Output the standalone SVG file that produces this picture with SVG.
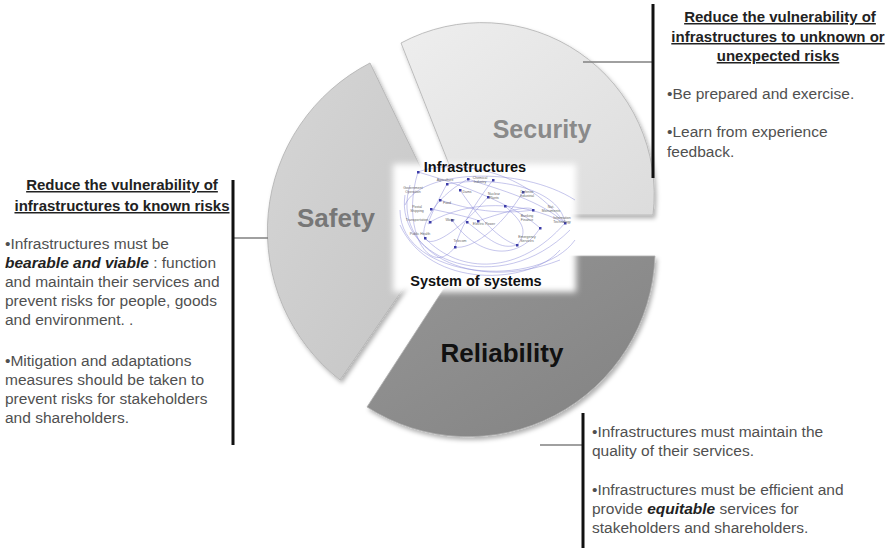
<svg xmlns="http://www.w3.org/2000/svg" width="895" height="549" viewBox="0 0 895 549">
<style>
.ttl{font-family:"Liberation Sans",Arial,sans-serif;font-weight:bold;font-size:15px;fill:#222;text-anchor:middle;text-decoration:underline}
.body{font-family:"Liberation Sans",Arial,sans-serif;font-size:15.5px;fill:#505050}
.bi{font-weight:bold;font-style:italic;fill:#222}
.seg{stroke:#b0b0b0;stroke-width:0.8}
.lbl{font-family:"Liberation Sans",Arial,sans-serif;font-weight:bold;text-anchor:middle}
.hdr{font-family:"Liberation Sans",Arial,sans-serif;font-weight:bold;font-size:14.5px;fill:#111;text-anchor:middle}
.bar{stroke:#111;stroke-width:3}
.lead{stroke:#808080;stroke-width:1.5}
.net path{fill:none;stroke:#8a8ad8;stroke-width:0.7;opacity:0.7}
.net rect{fill:#3c3ca8}
.tiny{font-family:"Liberation Sans",Arial,sans-serif;font-size:3.5px;fill:#666;text-anchor:middle}
</style>
<defs>
<filter id="sh" x="-10%" y="-10%" width="130%" height="130%">
<feDropShadow dx="2" dy="3" stdDeviation="2" flood-color="#000" flood-opacity="0.3"/>
</filter>
<filter id="soft" x="-10%" y="-10%" width="120%" height="120%">
<feGaussianBlur stdDeviation="3"/>
</filter>
<linearGradient id="gSec" x1="0" y1="0" x2="1" y2="1">
<stop offset="0" stop-color="#eeeeee"/><stop offset="1" stop-color="#dcdcdc"/>
</linearGradient>
<linearGradient id="gSaf" x1="0" y1="0" x2="1" y2="1">
<stop offset="0" stop-color="#d6d6d6"/><stop offset="1" stop-color="#c4c4c4"/>
</linearGradient>
<linearGradient id="gRel" x1="0" y1="0" x2="1" y2="1">
<stop offset="0" stop-color="#969696"/><stop offset="1" stop-color="#828282"/>
</linearGradient>
</defs>
<rect width="895" height="549" fill="#ffffff"/>

<g id="security" filter="url(#sh)">
<path class="seg" d="M469,215 L401,43 A172,172 0 0 1 653,215 Z" fill="url(#gSec)"/>
</g>
<g id="safety" filter="url(#sh)">
<path class="seg" d="M448,224 L370,63 A189,189 0 0 0 340,380 Z" fill="url(#gSaf)"/>
</g>
<g id="reliability" filter="url(#sh)">
<path class="seg" d="M465,256 L655,256 A187,187 0 0 1 367,407 Z" fill="url(#gRel)"/>
</g>

<text class="lbl" x="542" y="138" font-size="25" fill="#8a8a8a">Security</text>
<text class="lbl" x="336" y="227" font-size="26" fill="#777777">Safety</text>
<text class="lbl" x="502" y="362" font-size="26" fill="#111111">Reliability</text>

<g id="system-of-systems">
<rect x="393" y="164" width="183" height="128" fill="#ffffff" filter="url(#soft)"/>
<g class="net">
<path d="M418,172 C450,160 520,165 565,223"/>
<path d="M418,172 C400,230 430,280 455,247"/>
<path d="M447,184 C500,175 560,190 565,223"/>
<path d="M468,179 C430,200 420,230 425,238"/>
<path d="M460,190 C480,220 500,240 517,245"/>
<path d="M440,200 C470,210 500,215 533,210"/>
<path d="M488,197 C460,230 430,250 425,238"/>
<path d="M523,192 C500,230 470,250 455,247"/>
<path d="M430,222 C470,200 520,200 565,223"/>
<path d="M452,220 C480,260 520,260 540,228"/>
<path d="M478,221 C510,210 530,205 533,210"/>
<path d="M405,195 C395,260 500,300 570,230"/>
<path d="M410,185 C390,250 470,295 560,260"/>
<path d="M425,238 C460,275 520,275 565,223"/>
<path d="M467,222 C490,240 500,250 517,245"/>
<path d="M418,172 C480,190 520,210 540,228"/>
<path d="M493,180 C470,210 460,230 455,247"/>
<path d="M400,210 C400,280 540,290 575,240"/>
<path d="M447,184 C430,215 425,230 430,222"/>
<path d="M505,206 C520,220 530,230 517,245"/>
<path d="M468,179 C500,190 540,200 565,223"/>
<path d="M431,209 C460,215 480,220 478,221"/>
<path d="M405,205 C420,170 520,165 575,200"/>
<path d="M400,225 C430,290 530,285 560,250"/>
<rect x="417" y="171" width="2.5" height="2.5"/>
<rect x="446" y="183" width="2.5" height="2.5"/>
<rect x="467" y="178" width="2.5" height="2.5"/>
<rect x="459" y="189" width="2.5" height="2.5"/>
<rect x="439" y="199" width="2.5" height="2.5"/>
<rect x="487" y="196" width="2.5" height="2.5"/>
<rect x="522" y="191" width="2.5" height="2.5"/>
<rect x="532" y="209" width="2.5" height="2.5"/>
<rect x="429" y="221" width="2.5" height="2.5"/>
<rect x="451" y="219" width="2.5" height="2.5"/>
<rect x="466" y="221" width="2.5" height="2.5"/>
<rect x="477" y="220" width="2.5" height="2.5"/>
<rect x="564" y="222" width="2.5" height="2.5"/>
<rect x="424" y="237" width="2.5" height="2.5"/>
<rect x="454" y="246" width="2.5" height="2.5"/>
<rect x="516" y="244" width="2.5" height="2.5"/>
<rect x="430" y="208" width="2.5" height="2.5"/>
<rect x="492" y="179" width="2.5" height="2.5"/>
<rect x="504" y="205" width="2.5" height="2.5"/>
<rect x="539" y="227" width="2.5" height="2.5"/>
</g>
<text class="tiny" x="445" y="181">Agriculture</text>
<text class="tiny" x="480" y="178.5">Chemical</text>
<text class="tiny" x="480" y="182.5">Industry</text>
<text class="tiny" x="413" y="189">Government</text>
<text class="tiny" x="413" y="193">Operation</text>
<text class="tiny" x="467" y="193">Dams</text>
<text class="tiny" x="447" y="204">Food</text>
<text class="tiny" x="494" y="195">Nuclear</text>
<text class="tiny" x="494" y="199">Plants</text>
<text class="tiny" x="527" y="193">Defense</text>
<text class="tiny" x="527" y="197">Industrial</text>
<text class="tiny" x="417" y="208">Postal</text>
<text class="tiny" x="417" y="212">Shipping</text>
<text class="tiny" x="551" y="208">Nat.</text>
<text class="tiny" x="551" y="212">Monuments</text>
<text class="tiny" x="417" y="221">Transportation</text>
<text class="tiny" x="450" y="221">Water</text>
<text class="tiny" x="484" y="225">Electric Power</text>
<text class="tiny" x="527" y="217">Banking</text>
<text class="tiny" x="527" y="221">Finance</text>
<text class="tiny" x="562" y="219">Information</text>
<text class="tiny" x="562" y="223">Technology</text>
<text class="tiny" x="420" y="235">Public Health</text>
<text class="tiny" x="460" y="242">Telecom</text>
<text class="tiny" x="527" y="238">Emergency</text>
<text class="tiny" x="527" y="242">Services</text>
<text class="hdr" x="475" y="172">Infrastructures</text>
<text class="hdr" x="476" y="286">System of systems</text>
</g>

<g id="connectors">
<line class="lead" x1="583" y1="62" x2="653" y2="62"/>
<line class="bar" x1="653" y1="4" x2="653" y2="178"/>
<line class="lead" x1="233" y1="238" x2="268" y2="238"/>
<line class="bar" x1="233" y1="180" x2="233" y2="445"/>
<line class="lead" x1="540" y1="445" x2="583" y2="445"/>
<line class="bar" x1="583" y1="413" x2="583" y2="548"/>
</g>

<g id="security-text">
<text class="ttl" x="780" y="22"> Reduce the vulnerability of</text>
<text class="ttl" x="778" y="42">infrastructures to unknown or</text>
<text class="ttl" x="778" y="61">unexpected risks</text>
<text class="body" x="667" y="99">•Be prepared and exercise.</text>
<text class="body" x="667" y="137">•Learn from experience</text>
<text class="body" x="667" y="157">feedback.</text>
</g>

<g id="safety-text">
<text class="ttl" x="122" y="190"> Reduce the vulnerability of</text>
<text class="ttl" x="122" y="211">infrastructures to known risks</text>
<text class="body" x="5" y="249">•Infrastructures must be</text>
<text class="body" x="5" y="268"><tspan class="bi">bearable and viable</tspan> : function</text>
<text class="body" x="5" y="287">and maintain their services and</text>
<text class="body" x="5" y="306">prevent risks for people, goods</text>
<text class="body" x="5" y="325">and environment. .</text>
<text class="body" x="5" y="366">•Mitigation and adaptations</text>
<text class="body" x="5" y="385">measures should be taken to</text>
<text class="body" x="5" y="404">prevent risks for stakeholders</text>
<text class="body" x="5" y="423">and shareholders.</text>
</g>

<g id="reliability-text">
<text class="body" x="592" y="437">•Infrastructures must maintain the</text>
<text class="body" x="592" y="456">quality of their services.</text>
<text class="body" x="592" y="495">•Infrastructures must be efficient and</text>
<text class="body" x="592" y="514">provide <tspan class="bi">equitable</tspan> services for</text>
<text class="body" x="592" y="533">stakeholders and shareholders.</text>
</g>
</svg>
